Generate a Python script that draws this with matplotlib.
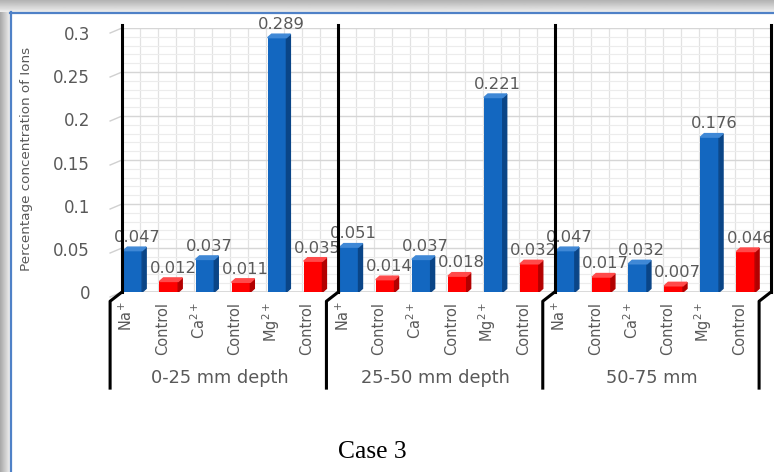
import numpy as np
import matplotlib
matplotlib.use("Agg")
import matplotlib.pyplot as plt
from matplotlib.patches import Polygon
from matplotlib.transforms import blended_transform_factory, ScaledTranslation

# ion concentration per depth band (Case 3)
categories = ["Na$^{+}$", "Control", "Ca$^{2+}$", "Control", "Mg$^{2+}$", "Control"]
is_control = [False, True, False, True, False, True]
depth_groups = ["0-25 mm depth", "25-50 mm depth", "50-75 mm"]
depth_0_25 = [0.047, 0.012, 0.037, 0.011, 0.289, 0.035]
depth_25_50 = [0.051, 0.014, 0.037, 0.018, 0.221, 0.032]
depth_50_75 = [0.047, 0.017, 0.032, 0.007, 0.176, 0.046]

values = depth_0_25 + depth_25_50 + depth_50_75
controls = is_control * len(depth_groups)
tick_labels = categories * len(depth_groups)

W, H = 774, 472
fig = plt.figure(figsize=(W / 100, H / 100), dpi=100)

# frame with shadow (left and top) like the pasted screenshot
bg = fig.add_axes([0, 0, 1, 1], zorder=-10)
bg.set_xlim(0, W)
bg.set_ylim(H, 0)
bg.axis("off")
bg.imshow(np.linspace(0.66, 0.93, 20)[None, :], extent=(0, 10, H, 0),
          cmap="gray", vmin=0, vmax=1, aspect="auto")
bg.imshow(np.linspace(0.70, 0.93, 20)[:, None], extent=(0, W, 12, 0),
          cmap="gray", vmin=0, vmax=1, aspect="auto")
bg.plot([10.5, 10.5], [12, H], color="#4f81c7", lw=1.6)
bg.plot([10, W], [12.5, 12.5], color="#4f81c7", lw=1.6)

ax = fig.add_axes([122 / W, (H - 292) / H, (771 - 122) / W, (292 - 28) / H])
ax.patch.set_alpha(0)
x0 = -0.3
n = len(values)
ax.set_xlim(x0, n + x0)
ax.set_ylim(0, 0.3)
for s in ax.spines.values():
    s.set_visible(False)

# grid
yt = np.arange(0, 0.301, 0.05)
ax.set_yticks(yt)
ax.set_yticks(np.arange(0, 0.301, 0.01), minor=True)
ax.grid(which="major", axis="y", color="#d6d6d6", lw=1.0, zorder=0)
ax.grid(which="minor", axis="y", color="#ececec", lw=0.8, zorder=0)
ax.vlines(np.arange(x0, n + x0, 0.5), 0, 0.3, color="#e2e2e2", lw=0.9, zorder=0)
ax.axhline(0, color="#d6d6d6", lw=1.2, zorder=0)
ax.tick_params(axis="y", which="both", length=0, pad=23, labelsize=12, labelcolor="#595959")
ax.set_yticklabels(["0", "0.05", "0.1", "0.15", "0.2", "0.25", "0.3"])
# front-edge labels sit a little lower than the back wall grid
for v, lab in zip(yt, ax.get_yticklabels()):
    lab.set_transform(lab.get_transform() + ScaledTranslation(0, -0.05 * v / 0.3, fig.dpi_scale_trans))
for v in yt:
    ax.plot([x0 - 0.33, x0], [v - 0.0057, v], color="#d0d0d0", lw=1, clip_on=False)

# 3D-looking bars
bw = 0.52
dx = 0.11
dy = 0.004
xs = np.arange(n)
for x, v, c in zip(xs, values, controls):
    if c:
        front, side, top = "#ff0000", "#b30000", "#ff4a4a"
    else:
        front, side, top = "#1367c0", "#0a4587", "#3f88d6"
    ax.bar(x, v, width=bw, color=front, zorder=3)
    r = x + bw / 2
    l = x - bw / 2
    ax.add_patch(Polygon([(r, 0), (r + dx, dy), (r + dx, v + dy), (r, v)],
                         closed=True, color=side, zorder=3))
    ax.add_patch(Polygon([(l, v), (r, v), (r + dx, v + dy), (l + dx, v + dy)],
                         closed=True, color=top, zorder=3))
    ax.annotate(f"{v:.3f}", (x, v), xytext=(3, 9.5), textcoords="offset points",
                ha="center", va="center", fontsize=11.8, color="#595959", zorder=2.5)

# x tick labels
ax.set_xticks(xs - 0.17)
ax.set_xticklabels(tick_labels, rotation=90, fontsize=10.5, color="#595959")
ax.tick_params(axis="x", length=0, pad=7)

# group separators with kink at the floor
trans = blended_transform_factory(ax.transData, ax.transAxes)
for k in range(len(depth_groups) + 1):
    xs_sep = x0 + 6 * k
    ax.plot([xs_sep, xs_sep], [0, 1.012], color="black", lw=2.2, zorder=4,
            transform=trans, clip_on=False)
    ax.plot([xs_sep, xs_sep - 0.33, xs_sep - 0.33], [0.0, -0.035, -0.364],
            color="black", lw=2.2, zorder=4, transform=trans, clip_on=False)

for k, g in enumerate(depth_groups):
    ax.text(6 * k + 2.5 - 0.1, -0.326, g, transform=trans, ha="center", va="center",
            fontsize=12.8, color="#595959")

ax.set_ylabel("Percentage concentration of Ions", fontsize=9.7, color="#595959")
ax.yaxis.set_label_coords(-0.137, 0.505)

fig.text(372 / W, 1 - 452 / H, "Case 3", ha="center", va="center",
         fontsize=18.4, family="Liberation Serif", color="black")

fig.savefig("out.png", dpi=100)
